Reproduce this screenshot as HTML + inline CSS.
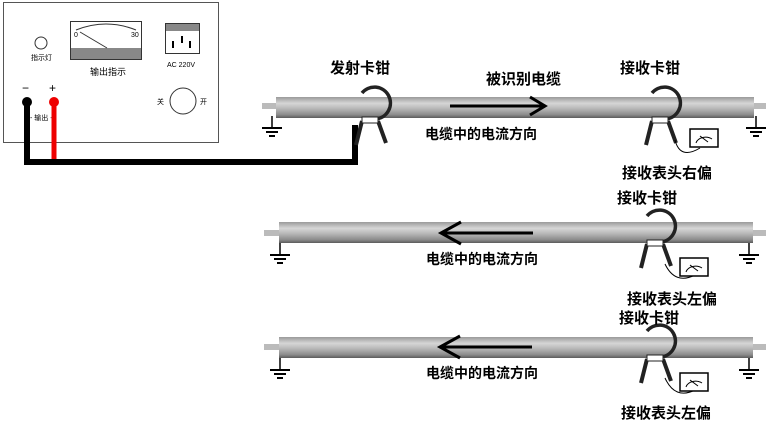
<!DOCTYPE html>
<html><head><meta charset="utf-8"><style>
body{margin:0;background:#fff;}
svg{display:block;}
text{font-family:"Liberation Sans","Noto Sans CJK SC",sans-serif;font-weight:bold;fill:#000;}
.s{font-weight:normal;font-size:7px;}
</style></head><body>
<svg width="781" height="432" viewBox="0 0 781 432" xmlns="http://www.w3.org/2000/svg">
<defs>
<linearGradient id="cg" x1="0" y1="0" x2="0" y2="1">
<stop offset="0" stop-color="#9a9a9a"/><stop offset="0.3" stop-color="#d6d6d6"/><stop offset="0.55" stop-color="#b8b8b8"/><stop offset="0.85" stop-color="#8a8a8a"/><stop offset="1" stop-color="#5a5a5a"/>
</linearGradient>
<g id="gnd"><line x1="0" y1="0" x2="0" y2="12" stroke="#000" stroke-width="1.5"/><line x1="-10" y1="12" x2="10" y2="12" stroke="#000" stroke-width="2"/><line x1="-6" y1="16" x2="6" y2="16" stroke="#000" stroke-width="2"/><line x1="-3" y1="20" x2="3" y2="20" stroke="#000" stroke-width="2"/></g>
<g id="clamp">
<path d="M-8,-12 A16,16 0 1 1 6,14" fill="none" stroke="#222" stroke-width="3.5"/>
<path d="M-8,16 L-14,40 M8,16 L16,38" stroke="#222" stroke-width="4" fill="none"/>
<rect x="-8" y="12" width="16" height="6" fill="#fff" stroke="#222"/>
</g>
<g id="meter"><rect x="0" y="0" width="28" height="18" fill="#fff" stroke="#000" stroke-width="1.5"/><path d="M6,14 A10,8 0 0 1 22,10" fill="none" stroke="#000"/><line x1="10" y1="7" x2="18" y2="13" stroke="#000"/></g>
</defs>

<!-- power box -->
<rect x="3.5" y="2.5" width="215" height="140" fill="#fff" stroke="#555"/>
<circle cx="41" cy="43" r="6" fill="none" stroke="#333"/>
<text x="31" y="60" class="s">指示灯</text>
<rect x="70.5" y="21.5" width="71" height="38" fill="#fff" stroke="#333"/>
<rect x="71" y="48" width="70" height="11" fill="#888"/>
<path d="M76,30 Q106,18 136,30" fill="none" stroke="#333"/>
<line x1="80" y1="32" x2="107" y2="48" stroke="#333"/>
<text x="74" y="37" class="s">0</text><text x="131" y="37" class="s">30</text>
<text x="90" y="75" class="s" style="font-size:9px">输出指示</text>
<rect x="165.5" y="23.5" width="34" height="30" fill="#fff" stroke="#333"/>
<rect x="166" y="24" width="33" height="7" fill="#888"/>
<rect x="172" y="41" width="2" height="7" fill="#000"/><rect x="181" y="36" width="2" height="7" fill="#000"/><rect x="189" y="41" width="2" height="7" fill="#000"/>
<text x="167" y="67" class="s">AC 220V</text>
<circle cx="183" cy="101" r="13" fill="none" stroke="#333"/>
<text x="157" y="104" class="s">关</text><text x="200" y="104" class="s">开</text>
<text x="22" y="92" class="s" style="font-size:12px">−</text><text x="49" y="92" class="s" style="font-size:12px">+</text>
<text x="30" y="120" class="s">- 输出 -</text>
<path d="M27,102 V162 H355 V125" fill="none" stroke="#000" stroke-width="6"/>
<line x1="54" y1="102" x2="54" y2="159" stroke="#e00" stroke-width="5"/>
<circle cx="27" cy="102" r="5" fill="#000"/><circle cx="54" cy="102" r="5" fill="#e00"/>

<!-- row 1 -->
<rect x="262" y="103" width="16" height="6" fill="#bbb"/><rect x="752" y="103" width="14" height="6" fill="#bbb"/>
<rect x="276" y="97" width="478" height="21" fill="url(#cg)"/>
<use href="#gnd" x="272" y="116"/><use href="#gnd" x="756" y="116"/>
<use href="#clamp" x="370" y="105"/><use href="#clamp" x="660" y="105"/>
<path d="M450,106 H545 M530,97 L545,106 L530,115" fill="none" stroke="#000" stroke-width="3"/>
<text x="330" y="73" font-size="15">发射卡钳</text>
<text x="486" y="84" font-size="15">被识别电缆</text>
<text x="620" y="73" font-size="15">接收卡钳</text>
<text x="425" y="139" font-size="14">电缆中的电流方向</text>
<path d="M675,140 Q680,160 700,148" fill="none" stroke="#000"/>
<use href="#meter" x="690" y="129"/>
<text x="622" y="178" font-size="15">接收表头右偏</text>

<!-- row 2 -->
<rect x="264" y="230" width="16" height="6" fill="#bbb"/><rect x="752" y="230" width="14" height="6" fill="#bbb"/>
<rect x="279" y="222" width="474" height="21" fill="url(#cg)"/>
<use href="#gnd" x="280" y="243"/><use href="#gnd" x="749" y="243"/>
<use href="#clamp" x="655" y="228"/>
<path d="M533,233 H441 M461,222 L441,233 L461,244" fill="none" stroke="#000" stroke-width="3"/>
<text x="617" y="203" font-size="15">接收卡钳</text>
<text x="426" y="264" font-size="14">电缆中的电流方向</text>
<path d="M665,264 Q675,285 695,275" fill="none" stroke="#000"/>
<use href="#meter" x="680" y="258"/>
<text x="627" y="304" font-size="15">接收表头左偏</text>

<!-- row 3 -->
<rect x="264" y="344" width="16" height="6" fill="#bbb"/><rect x="752" y="344" width="14" height="6" fill="#bbb"/>
<rect x="279" y="337" width="474" height="21" fill="url(#cg)"/>
<use href="#gnd" x="280" y="358"/><use href="#gnd" x="749" y="358"/>
<use href="#clamp" x="655" y="343"/>
<path d="M532,347 H440 M460,336 L440,347 L460,358" fill="none" stroke="#000" stroke-width="3"/>
<text x="619" y="323" font-size="15">接收卡钳</text>
<text x="426" y="378" font-size="14">电缆中的电流方向</text>
<path d="M665,378 Q675,400 695,390" fill="none" stroke="#000"/>
<use href="#meter" x="680" y="373"/>
<text x="621" y="418" font-size="15">接收表头左偏</text>
</svg>
</body></html>
